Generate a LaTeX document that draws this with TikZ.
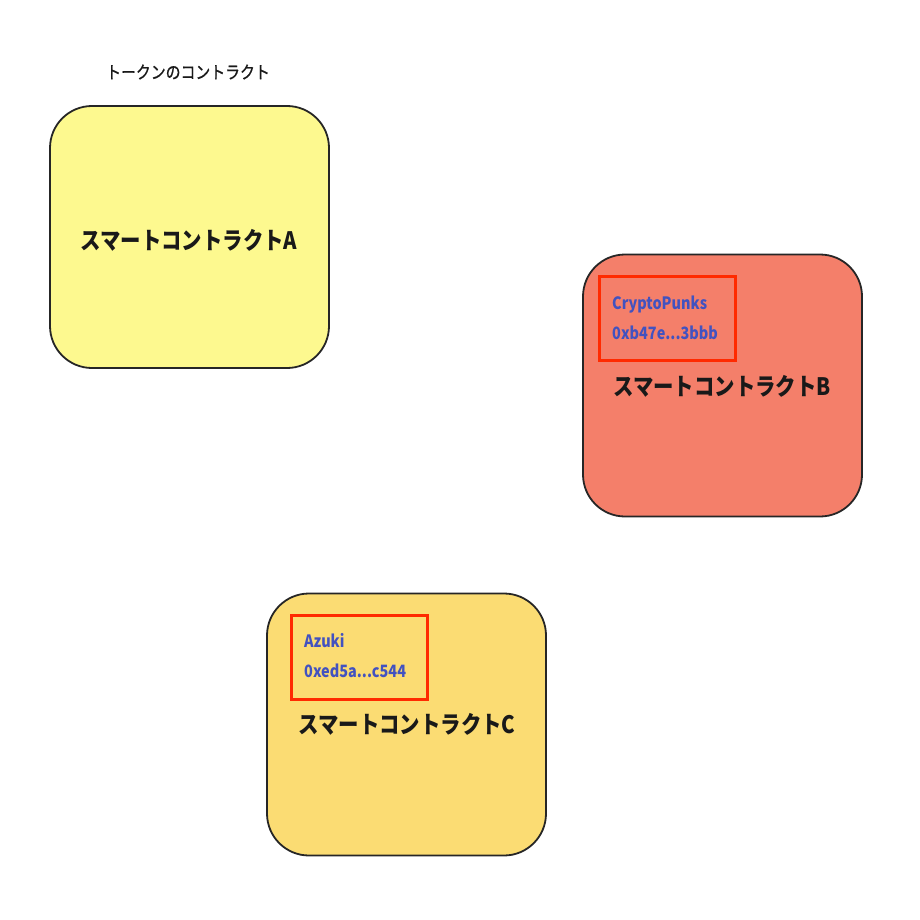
\documentclass[tikz,border=0pt]{standalone}
\usepackage{fontspec}
\setmainfont{Noto Sans CJK JP}
\newfontfamily\condfont[FakeStretch=0.85]{Noto Sans CJK JP}
\newfontfamily\headfont[FakeStretch=0.85,FakeBold=0.8]{Noto Sans CJK JP}
\usetikzlibrary{positioning}

\definecolor{paleyellow}{HTML}{FDF98F}
\definecolor{salmon}{HTML}{F47F6A}
\definecolor{sand}{HTML}{FBDC73}
\definecolor{addrblue}{HTML}{4252C0}
\definecolor{framered}{HTML}{FF2A00}

\begin{document}
\begin{tikzpicture}
	[x=1pt,y=-1pt,
	contract/.style={draw=black!85,line width=1.8pt,rounded corners=42pt,minimum width=279pt,minimum height=262pt,inner sep=0pt},
	addrbox/.style={draw=framered,line width=3pt,minimum width=136pt,minimum height=84pt,inner sep=0pt},
	title/.style={font=\condfont\bfseries\fontsize{24}{28}\selectfont,text=black!90},
	addr/.style={font=\condfont\bfseries\fontsize{17}{30}\selectfont,text=addrblue,align=left,inner sep=0pt}]
	\useasboundingbox (0,0) rectangle (920,920);
	\node[font=\headfont\fontsize{17.5}{20}\selectfont,text=black!90] (head) at (188,72) {トークンのコントラクト};
	
	\node[contract, fill=paleyellow] (ca) at (189.5,237) {};
	\node[contract, fill=salmon] (cb) at (722.5,385.5) {};
	\node[contract, fill=sand] (cc) at (406.5,724.5) {};
	
	\node[addrbox] (rb) at (667.5,318) {};
	\node[addrbox] (rc) at (359,657.5) {};
	\node[addr, anchor=north west] (tb) at (612,295.5) {CryptoPunks\\0xb47e...3bbb};
	\node[addr, anchor=north west] (tc) at (304,633.5) {Azuki\\0xed5a...c544};
	
	\node[title] (la) at (189,240) {スマートコントラクトA};
	\node[title] (lb) at (722,386) {スマートコントラクトB};
	\node[title] (lc) at (407,724) {スマートコントラクトC};
\end{tikzpicture}
\end{document}
